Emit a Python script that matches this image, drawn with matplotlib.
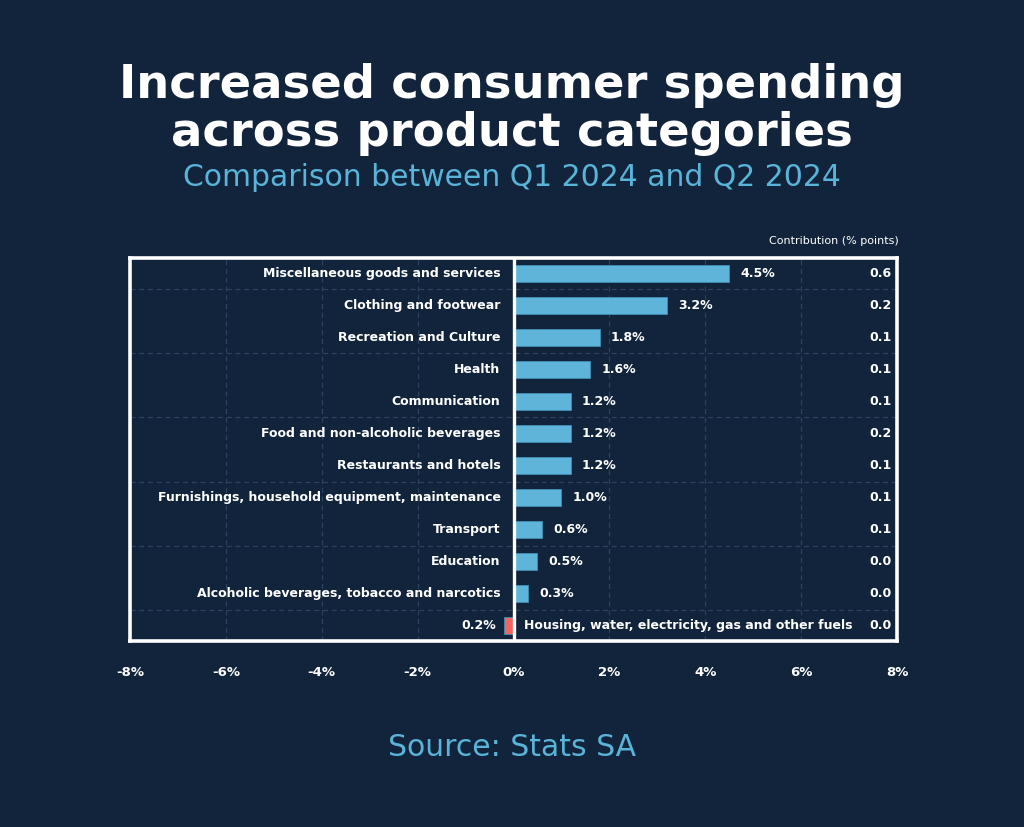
import matplotlib
matplotlib.use("Agg")
import matplotlib.pyplot as plt
import matplotlib.transforms as mtransforms

categories = [
    "Miscellaneous goods and services",
    "Clothing and footwear",
    "Recreation and Culture",
    "Health",
    "Communication",
    "Food and non-alcoholic beverages",
    "Restaurants and hotels",
    "Furnishings, household equipment, maintenance",
    "Transport",
    "Education",
    "Alcoholic beverages, tobacco and narcotics",
    "Housing, water, electricity, gas and other fuels",
]
growth = [4.5, 3.2, 1.8, 1.6, 1.2, 1.2, 1.2, 1.0, 0.6, 0.5, 0.3, -0.2]
contribution = ["0.6", "0.2", "0.1", "0.1", "0.1", "0.2", "0.1", "0.1", "0.1", "0.0", "0.0", "0.0"]
xticks = [-8, -6, -4, -2, 0, 2, 4, 6, 8]
xticklabels = ["-8%", "-6%", "-4%", "-2%", "0%", "2%", "4%", "6%", "8%"]

BG = "#11243b"
BLUE = "#5fb5d9"
RED = "#ef6560"
LIGHT = "#5ab3d8"
GRID = "#2b4260"

plt.rcParams['font.family'] = ['DejaVu Sans']
fig = plt.figure(figsize=(10.24, 8.27), dpi=100, facecolor=BG)
ax = fig.add_axes([130/1024, 1-641/827, 767/1024, 383/827])
ax.set_facecolor(BG)

n = len(categories)
ypos = list(range(n))
colors = [BLUE if v >= 0 else RED for v in growth]
ax.barh(ypos, growth, height=0.53, color=colors, edgecolor="#3d8fb5", linewidth=0.6, zorder=3)

ax.set_xlim(-8, 8)
ax.set_ylim(n - 0.53, -0.47)

# grid
for x in [-6, -4, -2, 2, 4, 6]:
    ax.axvline(x, color=GRID, lw=0.9, ls=(0, (4, 3)), zorder=1)
for y in [0.5, 2.5, 4.5, 6.5, 8.5, 10.5]:
    ax.axhline(y, color=GRID, lw=0.9, ls=(0, (4, 3)), zorder=1)
ax.axvline(0, color="white", lw=2.4, zorder=4)

for s in ax.spines.values():
    s.set_color("white")
    s.set_linewidth(2.6)

ax.set_yticks([])
ax.set_xticks(xticks)
ax.set_xticklabels(xticklabels, color="white", fontsize=9.5, fontweight="bold")
ax.tick_params(axis="x", length=0, pad=18)

off_l = mtransforms.offset_copy(ax.transData, fig=fig, x=-13, y=0, units="dots")
off_r = mtransforms.offset_copy(ax.transData, fig=fig, x=11, y=0, units="dots")

FS = 9.0
for i, (cat, v) in enumerate(zip(categories, growth)):
    lbl = f"{abs(v):.1f}%"
    if v >= 0:
        ax.text(0, i, cat, transform=off_l, ha="right", va="center", color="white",
                fontsize=FS, fontweight="bold", zorder=5)
        ax.text(v, i, lbl, transform=off_r, ha="left", va="center", color="white",
                fontsize=FS, fontweight="bold", zorder=5)
    else:
        ax.text(v, i, lbl, transform=mtransforms.offset_copy(ax.transData, fig=fig, x=-8, y=0, units="dots"),
                ha="right", va="center", color="white", fontsize=FS, fontweight="bold", zorder=5)
        ax.text(0, i, cat, transform=off_r, ha="left", va="center", color="white",
                fontsize=FS, fontweight="bold", zorder=5)
    ax.text(0.993, i, contribution[i], transform=ax.get_yaxis_transform(), ha="right", va="center",
            color="white", fontsize=FS, fontweight="bold", zorder=5)

fig.text(899/1024, 1-241/827, "Contribution (% points)", ha="right", va="center",
         color="white", fontsize=8)

fig.text(0.5, 1-85/827, "Increased consumer spending", ha="center", va="center",
         color="white", fontsize=33.5, fontweight="bold")
fig.text(0.5, 1-133/827, "across product categories", ha="center", va="center",
         color="white", fontsize=33.5, fontweight="bold")
fig.text(0.5, 1-178/827, "Comparison between Q1 2024 and Q2 2024", ha="center", va="center",
         color=LIGHT, fontsize=21.5)
fig.text(0.5, 1-748/827, "Source: Stats SA", ha="center", va="center",
         color=LIGHT, fontsize=21.5)

fig.savefig("out.png", dpi=100, facecolor=BG)
